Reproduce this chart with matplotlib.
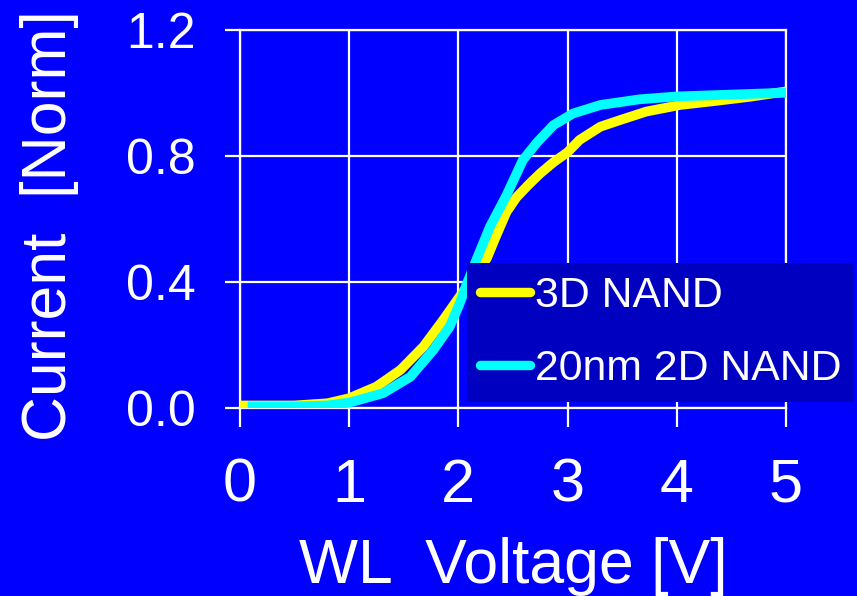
import numpy as np
import matplotlib
matplotlib.use("Agg")
import matplotlib.pyplot as plt
from matplotlib.lines import Line2D

plt.rcParams['font.family'] = ['Liberation Sans', 'DejaVu Sans']

# 3D NAND (yellow)
v_3d = [0.0, 0.5, 0.8, 1.0, 1.25, 1.47, 1.68, 1.86, 2.01, 2.12, 2.26, 2.35,
        2.44, 2.53, 2.64, 2.75, 2.87, 3.0, 3.11, 3.30, 3.48, 3.72, 4.03,
        4.36, 4.67, 5.0]
i_3d = [0.008, 0.008, 0.015, 0.031, 0.068, 0.121, 0.195, 0.279, 0.353, 0.405,
        0.475, 0.550, 0.622, 0.668, 0.708, 0.745, 0.780, 0.812, 0.851, 0.893,
        0.914, 0.941, 0.962, 0.975, 0.988, 1.005]

# 20nm 2D NAND (cyan)
v_2d = [0.07, 0.5, 0.8, 1.0, 1.31, 1.56, 1.77, 1.92, 2.01, 2.07, 2.17, 2.29,
        2.44, 2.59, 2.72, 2.87, 3.05, 3.30, 3.66, 4.0, 4.5, 5.0]
i_2d = [0.005, 0.005, 0.008, 0.017, 0.047, 0.099, 0.184, 0.258, 0.330, 0.388,
        0.475, 0.576, 0.675, 0.787, 0.843, 0.898, 0.935, 0.962, 0.980, 0.989,
        0.995, 1.001]

x_ticks = [0, 1, 2, 3, 4, 5]
y_ticks = [0.0, 0.4, 0.8, 1.2]
y_ticklabels = ["0.0", "0.4", "0.8", "1.2"]

bg = '#0000FF'
W, H = 857, 596

fig = plt.figure(figsize=(W / 100, H / 100), dpi=100, facecolor=bg)
ax = fig.add_axes([240 / W, 1 - 408 / H, 546 / W, 378 / H])
ax.set_facecolor(bg)

ax.plot(v_3d, i_3d, color='#FFFF00', lw=7, solid_capstyle='butt',
        solid_joinstyle='round', zorder=3)
ax.plot(v_2d, i_2d, color='#00FFFF', lw=7, solid_capstyle='butt',
        solid_joinstyle='round', zorder=4)

ax.set_xlim(0, 5)
ax.set_ylim(0, 1.2)
ax.set_xticks(x_ticks)
ax.set_yticks(y_ticks)
ax.set_yticklabels(y_ticklabels)

ax.grid(True, color='white', lw=1.6, zorder=1)
for s in ax.spines.values():
    s.set_color('white')
    s.set_linewidth(1.6)

ax.tick_params(axis='x', colors='white', labelsize=44, length=14, width=1.6,
               pad=22, direction='out')
ax.tick_params(axis='y', colors='white', labelsize=36, length=11, width=1.6,
               pad=21, direction='out')

fig.text(513 / W, 1 - 583 / H, "WL  Voltage [V]", color='white', fontsize=45,
         ha='center', va='baseline')
fig.text(50 / W, 1 - 226 / H, "Current  [Norm]", color='white', fontsize=45,
         rotation=90, ha='center', va='center')

handles = [
    Line2D([], [], color='#FFFF00', lw=6.8, solid_capstyle='round'),
    Line2D([], [], color='#00FFFF', lw=6.8, solid_capstyle='round'),
]
leg = ax.legend(handles, ["3D NAND", "20nm 2D NAND"], loc='upper left',
                bbox_to_anchor=(467 / W, 1 - 263 / H),
                bbox_transform=fig.transFigure, borderaxespad=0,
                fontsize=30.8, handlelength=1.17, handletextpad=0.1,
                labelspacing=0.76, borderpad=0.31, frameon=True,
                fancybox=False, facecolor='#0000C0', edgecolor='none',
                framealpha=1)
for t in leg.get_texts():
    t.set_color('white')
leg.set_zorder(5)

fig.savefig("out.png", dpi=100, facecolor=bg)
